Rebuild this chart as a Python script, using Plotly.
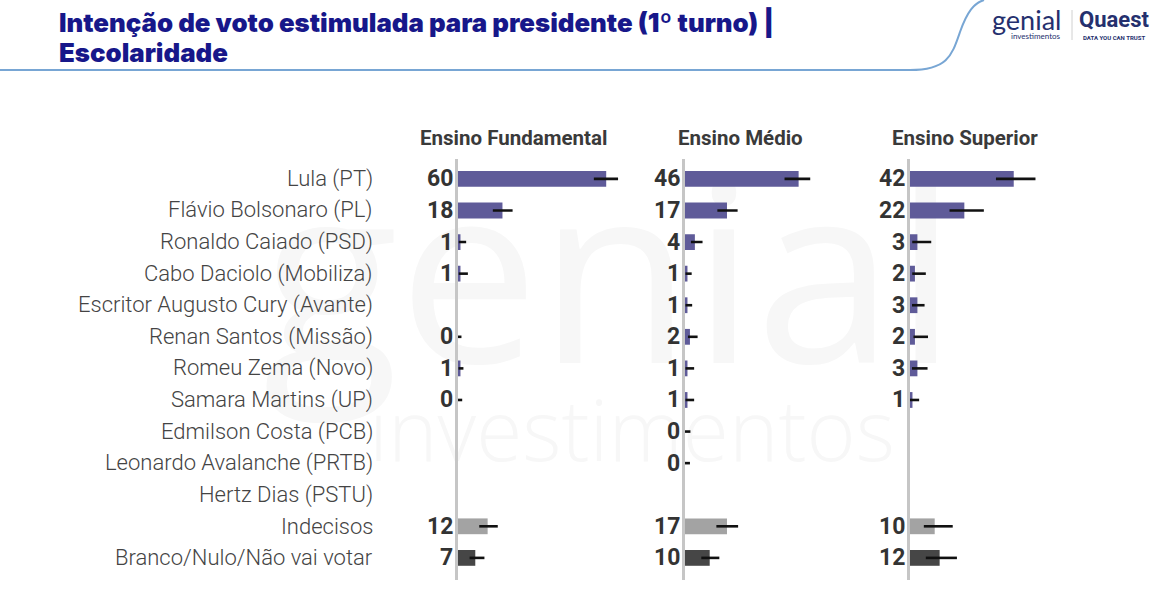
import plotly.graph_objects as go

W, H = 1157, 593

categories = [
    "Lula (PT)", "Flávio Bolsonaro (PL)", "Ronaldo Caiado (PSD)", "Cabo Daciolo (Mobiliza)",
    "Escritor Augusto Cury (Avante)", "Renan Santos (Missão)", "Romeu Zema (Novo)",
    "Samara Martins (UP)", "Edmilson Costa (PCB)", "Leonardo Avalanche (PRTB)",
    "Hertz Dias (PSTU)", "Indecisos", "Branco/Nulo/Não vai votar",
]
panels = ["Ensino Fundamental", "Ensino Médio", "Ensino Superior"]

fund_values = [60, 18, 1, 1, None, 0, 1, 0, None, None, None, 12, 7]
fund_low = [55.0, 14.1, 0.3, 0.3, None, 0, 0.2, 0, None, None, None, 8.6, 4.7]
fund_high = [64.8, 22.1, 3.3, 4.0, None, 1.4, 2.2, 1.7, None, None, None, 16.1, 10.7]

medio_values = [46, 17, 4, 1, 1, 2, 1, 1, 0, 0, None, 17, 10]
medio_low = [40.3, 13.1, 2.4, 0.2, 0.2, 1.2, 0.2, 0.2, 0, 0, None, 12.7, 6.6]
medio_high = [50.7, 21.3, 7.1, 2.7, 2.9, 5.1, 3.7, 3.7, 2.2, 2.0, None, 21.5, 13.9]

sup_values = [42, 22, 3, 2, 3, 2, 3, 1, None, None, None, 10, 12]
sup_low = [34.8, 16.0, 0.9, 0.9, 0.8, 1.4, 0.8, 0, None, None, None, 5.6, 6.4]
sup_high = [50.8, 29.9, 8.6, 6.4, 5.9, 7.3, 7.1, 3.7, None, None, None, 17.3, 19.0]

series = [
    (fund_values, fund_low, fund_high),
    (medio_values, medio_low, medio_high),
    (sup_values, sup_low, sup_high),
]

PURPLE = "#5f5b99"
LIGHT = "#a3a3a3"
DARK = "#464646"
bar_colors = [PURPLE] * 11 + [LIGHT, DARK]

PX_PER_PCT = 2.47
X_MAX = 72
axis_px = [458, 685, 910]

def fx(px):
    return px / W

def fy(py):
    return 1 - py / H

fig = go.Figure()

# watermark (bottom-most subplot)
fig.add_trace(go.Scatter(
    x=[610, 632], y=[300, 440], mode="text",
    text=["genial", "investimentos"],
    textfont=dict(family="Open Sans", color="#f7f7f7", size=[250, 84], weight=[400, 300]),
    xaxis="x", yaxis="y", hoverinfo="skip", showlegend=False, cliponaxis=False,
))
fig.update_layout(
    xaxis=dict(domain=[0, 1], range=[0, W], visible=False, fixedrange=True),
    yaxis=dict(domain=[0, 1], range=[H, 0], visible=False, fixedrange=True),
)

y_top_px, y_bot_px = 159, 580
annotations = []
for i, (vals, lo, hi) in enumerate(series):
    n = i + 2
    xa, ya = f"x{n}", f"y{n}"
    plus = [None if v is None else h - v for v, h in zip(vals, hi)]
    minus = [None if v is None else v - l for v, l in zip(vals, lo)]
    fig.add_trace(go.Bar(
        x=vals, y=categories, orientation="h", width=0.5,
        marker=dict(color=bar_colors, line=dict(width=0)),
        error_x=dict(type="data", symmetric=False, array=plus, arrayminus=minus,
                     color="#111111", thickness=2.6, width=0),
        xaxis=xa, yaxis=ya, showlegend=False, hoverinfo="skip",
    ))
    x0 = axis_px[i]
    x1 = x0 + X_MAX * PX_PER_PCT
    fig.layout[f"xaxis{n}"] = dict(domain=[fx(x0), fx(x1)], range=[0, X_MAX], visible=False,
                                   anchor=ya, fixedrange=True)
    fig.layout[f"yaxis{n}"] = dict(domain=[fy(y_bot_px), fy(y_top_px)], anchor=xa,
                                   type="category", categoryorder="array", categoryarray=categories,
                                   range=[12.7, -0.63], showticklabels=False, showgrid=False,
                                   zeroline=False, showline=True, linecolor="#c6c6c6", linewidth=3,
                                   ticks="", fixedrange=True)
    # value labels
    for c, v in zip(categories, vals):
        if v is None:
            continue
        annotations.append(dict(
            x=0, y=c, xref=xa, yref=ya, text=f"<b>{v}</b>", showarrow=False,
            xanchor="right", yanchor="middle", xshift=-3,
            font=dict(family="Roboto", size=23, color="#333333", weight=900),
        ))
    # panel header
    annotations.append(dict(
        x=fx(x0 + 55), y=fy(138), xref="paper", yref="paper", text=f"<b>{panels[i]}</b>",
        showarrow=False, xanchor="center", yanchor="middle",
        font=dict(family="Roboto", size=20.5, color="#3a3a3a", weight=900),
    ))

# category labels
for c in categories:
    annotations.append(dict(
        x=fx(375), y=c, xref="paper", yref="y2", text=c, showarrow=False,
        xanchor="right", yanchor="middle",
        font=dict(family="Roboto", size=22, color="#444444", weight=300),
    ))

# title
NAVY = "#17178a"
annotations.append(dict(x=fx(57), y=fy(22), xref="paper", yref="paper",
                        text="Intenção de voto estimulada para presidente (1º turno) |",
                        showarrow=False, xanchor="left", yanchor="middle",
                        font=dict(family="Inter", size=25.8, color=NAVY, weight=900)))
annotations.append(dict(x=fx(57), y=fy(53), xref="paper", yref="paper",
                        text="Escolaridade", showarrow=False, xanchor="left", yanchor="middle",
                        font=dict(family="Inter", size=25.8, color=NAVY, weight=900)))

# logo texts
LOGO = "#25306e"
annotations.append(dict(x=fx(1026), y=fy(20), xref="paper", yref="paper", text="genial",
                        showarrow=False, xanchor="center", yanchor="middle",
                        font=dict(family="Lato", size=27, color=LOGO, weight=400)))
annotations.append(dict(x=fx(1036), y=fy(36), xref="paper", yref="paper", text="investimentos",
                        showarrow=False, xanchor="center", yanchor="middle",
                        font=dict(family="Lato", size=8, color=LOGO)))
annotations.append(dict(x=fx(1114), y=fy(20), xref="paper", yref="paper", text="<b>Quaest</b>",
                        showarrow=False, xanchor="center", yanchor="middle",
                        font=dict(family="Roboto", size=22, color=LOGO, weight=900)))
annotations.append(dict(x=fx(1114), y=fy(37), xref="paper", yref="paper", text="<b>DATA YOU CAN TRUST</b>",
                        showarrow=False, xanchor="center", yanchor="middle",
                        font=dict(family="Roboto", size=6, color=LOGO)))

shapes = [
    dict(type="line", xref="paper", yref="paper", x0=fx(1072), x1=fx(1072), y0=fy(10), y1=fy(40),
         line=dict(color="#d0d0d0", width=1)),
    dict(type="path", xref="paper", yref="paper",
         path=(f"M 0,{fy(70)} L {fx(910)},{fy(70)} "
               f"C {fx(948)},{fy(70)} {fx(952)},{fy(55)} {fx(960)},{fy(32)} "
               f"C {fx(967)},{fy(12)} {fx(974)},{fy(3)} {fx(984)},{fy(0)}"),
         line=dict(color="#78a6d4", width=2)),
]

fig.update_layout(
    width=W, height=H, margin=dict(l=0, r=0, t=0, b=0),
    paper_bgcolor="white", plot_bgcolor="rgba(0,0,0,0)",
    annotations=annotations, shapes=shapes, bargap=0.5,
)
fig.write_html("out.html")
